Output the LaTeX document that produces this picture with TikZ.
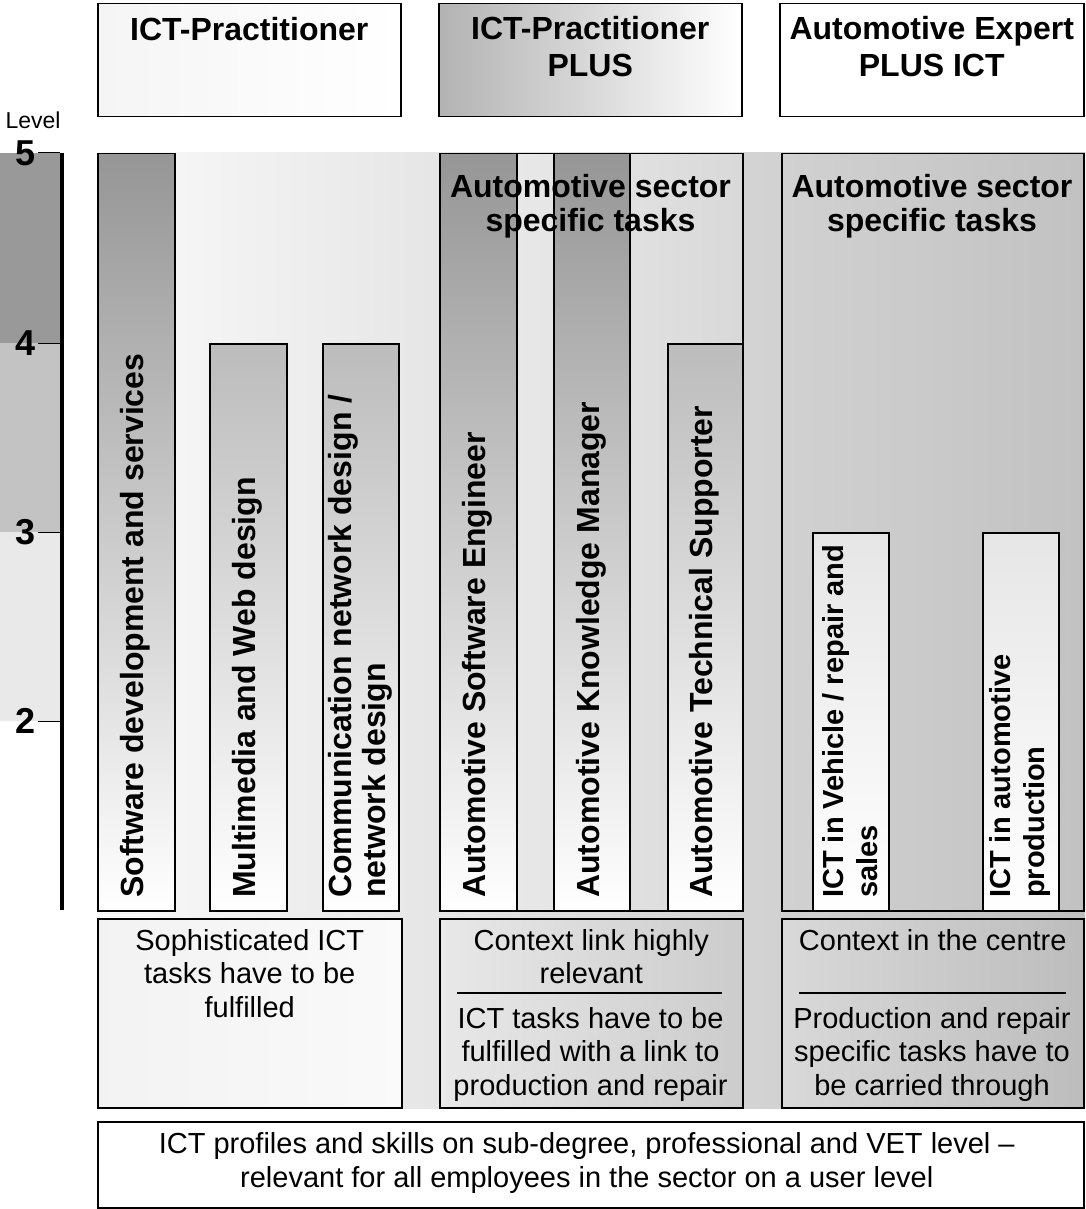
\documentclass[tikz,border=0pt]{standalone}
\usepackage{fontspec}
\setmainfont{Liberation Sans}
\usetikzlibrary{calc}

% grey tones
\definecolor{bandA}{HTML}{999999}
\definecolor{bandB}{HTML}{C3C3C3}
\definecolor{bandC}{HTML}{E9E9E9}
\definecolor{barDark}{HTML}{969696}
\definecolor{barMid}{HTML}{BCBCBC}
\definecolor{barLight}{HTML}{E6E6E6}

\begin{document}
\begin{tikzpicture}[x=1pt,y=-1pt,
  frame/.style={draw=black, line width=1.5pt, rectangle, inner sep=0pt, anchor=north west},
  bigbold/.style={font={\fontsize{32}{34}\selectfont\bfseries}, inner sep=0pt, align=center},
  hdrtext/.style={font={\fontsize{32}{37}\selectfont\bfseries}, inner sep=0pt, align=center, anchor=north},
  bodytext/.style={font={\fontsize{29}{33.5}\selectfont}, inner sep=0pt, align=center},
  barlabel/.style={font={\fontsize{32}{34}\selectfont\bfseries}, inner sep=0pt, align=left, rotate=90, anchor=west},
  smallbarlabel/.style={font={\fontsize{29}{34}\selectfont\bfseries}, inner sep=0pt, align=left, rotate=90, anchor=west},
  tall/.style={frame, top color=barDark, bottom color=white},
  mid/.style={frame, top color=barMid, bottom color=white},
  low/.style={frame, top color=barLight, bottom color=white},
  levelnum/.style={font={\fontsize{36}{36}\selectfont\bfseries}, inner sep=0pt},
  rule/.style={line width=1.5pt}
]
\useasboundingbox (0,0) rectangle (1085,1209);

% ---- level scale on the left ----
\fill[bandA] (0,153) rectangle (60,343);
\fill[bandB] (0,343) rectangle (60,532);
\fill[bandC] (0,532) rectangle (60,721);
\node[font={\fontsize{23}{23}\selectfont}, inner sep=0pt] (lvl) at (33,120) {Level};
\coordinate (axtop) at (62,153);
\coordinate (axbot) at (62,910);
\draw[line width=4pt] (axtop) -- (axbot);
\foreach \n/\yy in {5/153,4/343,3/532,2/721}{
  \coordinate (tk\n a) at (38,\yy);
  \coordinate (tk\n b) at (60,\yy);
  \draw[line width=1pt] (tk\n a) -- (tk\n b);
  \node[levelnum] (lab\n) at (26,\yy) {\n};
}

% ---- shaded background of the main area ----
\fill[left color=white!98!black, middle color=white!89!black, right color=white!75!black]
  (97,153) rectangle (1085,1108);

% ---- column headers ----
\node[frame, minimum width=303, minimum height=113, left color=white!96!black, right color=white] (h1) at (97,3) {};
\node[frame, minimum width=303, minimum height=113, left color=white!70!black, right color=white] (h2) at (438,3) {};
\node[frame, minimum width=304, minimum height=113, fill=white] (h3) at (779,3) {};
\node[hdrtext] (h1t) at ($(h1.north)+(0,14)$) {ICT-Practitioner};
\node[hdrtext] (h2t) at ($(h2.north)+(0,13)$) {ICT-Practitioner\\PLUS};
\node[hdrtext] (h3t) at ($(h3.north)+(0,13)$) {Automotive Expert\\PLUS ICT};

% ---- ICT-Practitioner group ----
\node[tall, minimum width=77, minimum height=757] (sw) at (97,153) {};
\node[mid,  minimum width=77, minimum height=567] (mm) at (209,343) {};
\node[mid,  minimum width=76, minimum height=567] (cn) at (322,343) {};
\node[barlabel] (swt) at (135.5,898) {Software development and services};
\node[barlabel] (mmt) at (247.5,898) {Multimedia and Web design};
\node[barlabel] (cnt) at (360,898) {Communication network design /\\network design};
\node[frame, minimum width=304, minimum height=189, left color=white!95!black, right color=white!98!black] (lb) at (97,918) {};
\node[bodytext, anchor=north] (lbt) at ($(lb.north)+(0,11)$) {Sophisticated ICT\\tasks have to be\\fulfilled};

% ---- ICT-Practitioner PLUS group ----
\node[frame, minimum width=303, minimum height=757, left color=white!93!black, right color=white!85!black] (mo) at (439,153) {};
\node[tall, minimum width=77, minimum height=757] (ase) at (439,153) {};
\node[tall, minimum width=76, minimum height=757] (akm) at (553,153) {};
\node[mid,  minimum width=75, minimum height=567] (ats) at (667,343) {};
\node[bigbold, anchor=north] (mot) at (590.5,174) {Automotive sector\\specific tasks};
\node[barlabel] (aset) at (477.5,898) {Automotive Software Engineer};
\node[barlabel] (akmt) at (591,898) {Automotive Knowledge Manager};
\node[barlabel] (atst) at (704.5,898) {Automotive Technical Supporter};
\node[frame, minimum width=303, minimum height=189, left color=white!91!black, right color=white!80!black] (mb) at (439,918) {};
\node[bodytext, anchor=north] (mbt1) at ($(mb.north)+(0,11)$) {Context link highly\\relevant};
\coordinate (mr1) at (457,993);
\coordinate (mr2) at (722,993);
\draw[rule] (mr1) -- (mr2);
\node[bodytext, anchor=north] (mbt2) at (590.5,1007) {ICT tasks have to be\\fulfilled with a link to\\production and repair};

% ---- Automotive Expert PLUS ICT group ----
\node[frame, minimum width=302, minimum height=757, left color=white!82!black, right color=white!76!black] (ro) at (781,153) {};
\node[bigbold, anchor=north] (rot) at (932,174) {Automotive sector\\specific tasks};
\node[low, minimum width=76, minimum height=378] (iv) at (812,532) {};
\node[low, minimum width=76, minimum height=378] (ia) at (982,532) {};
\node[smallbarlabel] (ivt) at (850,898) {ICT in Vehicle / repair and\\sales};
\node[smallbarlabel] (iat) at (1020,898) {ICT in automotive\\production};
\node[frame, minimum width=302, minimum height=189, left color=white!85!black, right color=white!74!black] (rb) at (781,918) {};
\node[bodytext, anchor=north] (rbt1) at ($(rb.north)+(0,11)$) {Context in the centre};
\coordinate (rr1) at (799,993);
\coordinate (rr2) at (1066,993);
\draw[rule] (rr1) -- (rr2);
\node[bodytext, anchor=north] (rbt2) at (932,1007) {Production and repair\\specific tasks have to\\be carried through};

% ---- common base ----
\node[frame, minimum width=986, minimum height=86, fill=white] (base) at (97,1121) {};
\node[bodytext] (baset) at ($(base.center)+(-4,-2)$) {ICT profiles and skills on sub-degree, professional and VET level --\\relevant for all employees in the sector on a user level};
\end{tikzpicture}
\end{document}
